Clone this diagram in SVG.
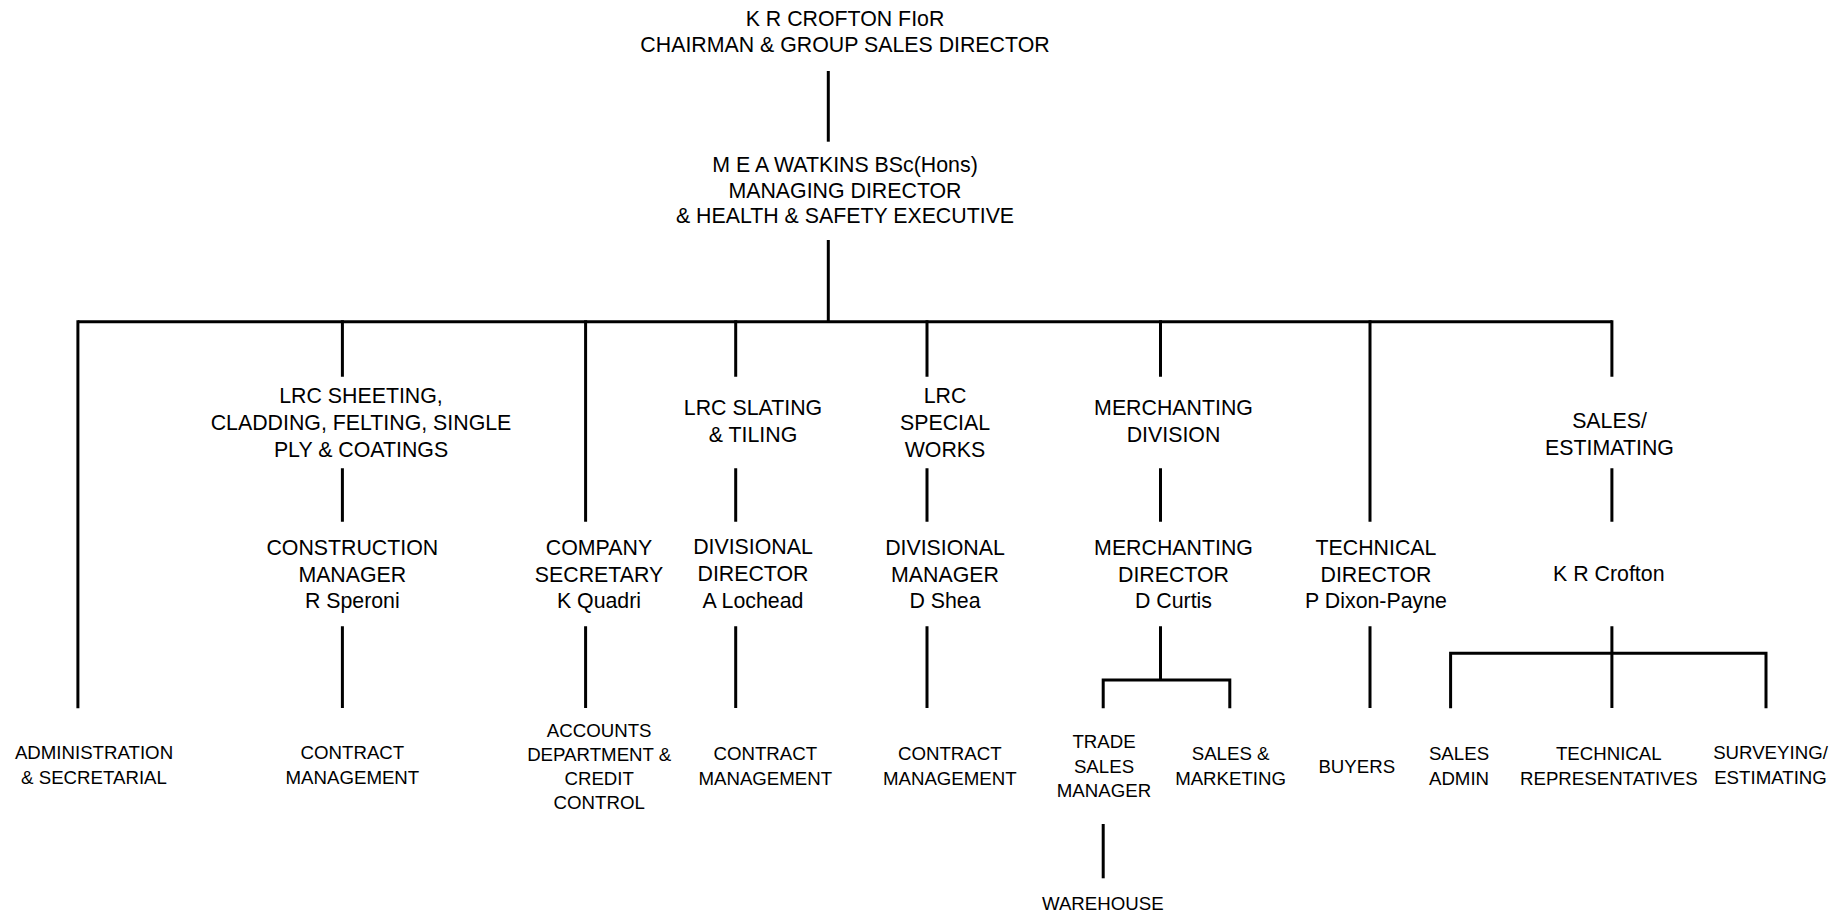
<svg xmlns="http://www.w3.org/2000/svg" width="1845" height="913" viewBox="0 0 1845 913">
<style>
text{font-family:"Liberation Sans",Arial,Helvetica,sans-serif;fill:#000;text-anchor:middle}
.l{font-size:21.33px}
.s{font-size:18.67px}
.c{stroke:#000;stroke-width:3;fill:none;stroke-linecap:butt}
</style>
<rect width="1845" height="913" fill="#fff"/>
<g id="connectors" class="c">
<path d="M828.3 71V141.7"/>
<path d="M828.3 240V321.7"/>
<path d="M77.9 321.7H1612"/>
<path d="M77.9 320.2V708.3"/>
<path d="M342.4 320.2V376.7M342.4 468.3V521.7M342.4 626.3V708"/>
<path d="M585.6 320.2V521.7M585.6 626.3V708"/>
<path d="M735.7 320.2V376.7M735.7 468.3V521.7M735.7 626.3V708"/>
<path d="M927 320.2V376.7M927 468.3V521.7M927 626.3V708"/>
<path d="M1160.5 320.2V376.7M1160.5 468.3V521.7M1160.5 626.3V680"/>
<path d="M1103.2 708.3V680H1229.8V708.3"/>
<path d="M1103.2 824V878.3"/>
<path d="M1370 320.2V521.7M1370 626.3V708"/>
<path d="M1611.9 320.2V376.7M1611.9 468.3V521.7M1611.9 626.3V708"/>
<path d="M1450.6 708.3V653.3H1766V708.3"/>
</g>
<g id="chairman" class="l"><text x="845" y="26">K R CROFTON FIoR</text><text x="845" y="52">CHAIRMAN &amp; GROUP SALES DIRECTOR</text></g>
<g id="md" class="l"><text x="845" y="171.7">M E A WATKINS BSc(Hons)</text><text x="845" y="197.5">MANAGING DIRECTOR</text><text x="845" y="223.3">&amp; HEALTH &amp; SAFETY EXECUTIVE</text></g>
<g id="lrc-sheeting" class="l"><text x="361" y="403.3">LRC SHEETING,</text><text x="361" y="430">CLADDING, FELTING, SINGLE</text><text x="361" y="456.7">PLY &amp; COATINGS</text></g>
<g id="lrc-slating" class="l"><text x="753" y="415">LRC SLATING</text><text x="753" y="441.7">&amp; TILING</text></g>
<g id="lrc-special" class="l"><text x="945" y="403.3">LRC</text><text x="945" y="430">SPECIAL</text><text x="945" y="456.7">WORKS</text></g>
<g id="merch-div" class="l"><text x="1173.5" y="415">MERCHANTING</text><text x="1173.5" y="441.7">DIVISION</text></g>
<g id="sales-est" class="l"><text x="1609.5" y="428.3">SALES/</text><text x="1609.5" y="455">ESTIMATING</text></g>
<g id="construction" class="l"><text x="352.3" y="555">CONSTRUCTION</text><text x="352.3" y="581.7">MANAGER</text><text x="352.3" y="608.3">R Speroni</text></g>
<g id="company-sec" class="l"><text x="599" y="555">COMPANY</text><text x="599" y="581.7">SECRETARY</text><text x="599" y="608.3">K Quadri</text></g>
<g id="div-director" class="l"><text x="753" y="554.3">DIVISIONAL</text><text x="753" y="581">DIRECTOR</text><text x="753" y="607.7">A Lochead</text></g>
<g id="div-manager" class="l"><text x="945" y="555">DIVISIONAL</text><text x="945" y="581.7">MANAGER</text><text x="945" y="608.3">D Shea</text></g>
<g id="merch-director" class="l"><text x="1173.5" y="555">MERCHANTING</text><text x="1173.5" y="581.7">DIRECTOR</text><text x="1173.5" y="608.3">D Curtis</text></g>
<g id="tech-director" class="l"><text x="1376" y="555">TECHNICAL</text><text x="1376" y="581.7">DIRECTOR</text><text x="1376" y="608.3">P Dixon-Payne</text></g>
<g id="kr-crofton" class="l"><text x="1608.8" y="581">K R Crofton</text></g>
<g id="admin" class="s"><text x="94" y="759.3">ADMINISTRATION</text><text x="94" y="783.5">&amp; SECRETARIAL</text></g>
<g id="contract-1" class="s"><text x="352.4" y="759.3">CONTRACT</text><text x="352.4" y="783.5">MANAGEMENT</text></g>
<g id="accounts" class="s"><text x="599.2" y="736.5">ACCOUNTS</text><text x="599.2" y="760.5">DEPARTMENT &amp;</text><text x="599.2" y="784.7">CREDIT</text><text x="599.2" y="808.9">CONTROL</text></g>
<g id="contract-2" class="s"><text x="765.3" y="760">CONTRACT</text><text x="765.3" y="784.5">MANAGEMENT</text></g>
<g id="contract-3" class="s"><text x="949.8" y="760">CONTRACT</text><text x="949.8" y="784.5">MANAGEMENT</text></g>
<g id="trade-sales" class="s"><text x="1104" y="748.3">TRADE</text><text x="1104" y="772.5">SALES</text><text x="1104" y="796.7">MANAGER</text></g>
<g id="sales-marketing" class="s"><text x="1230.6" y="760">SALES &amp;</text><text x="1230.6" y="784.5">MARKETING</text></g>
<g id="buyers" class="s"><text x="1356.8" y="772.7">BUYERS</text></g>
<g id="sales-admin" class="s"><text x="1459" y="760">SALES</text><text x="1459" y="784.5">ADMIN</text></g>
<g id="tech-reps" class="s"><text x="1608.8" y="760">TECHNICAL</text><text x="1608.8" y="785">REPRESENTATIVES</text></g>
<g id="surveying" class="s"><text x="1770.5" y="759.3">SURVEYING/</text><text x="1770.5" y="783.5">ESTIMATING</text></g>
<g id="warehouse" class="s"><text x="1102.8" y="910">WAREHOUSE</text></g>
</svg>
